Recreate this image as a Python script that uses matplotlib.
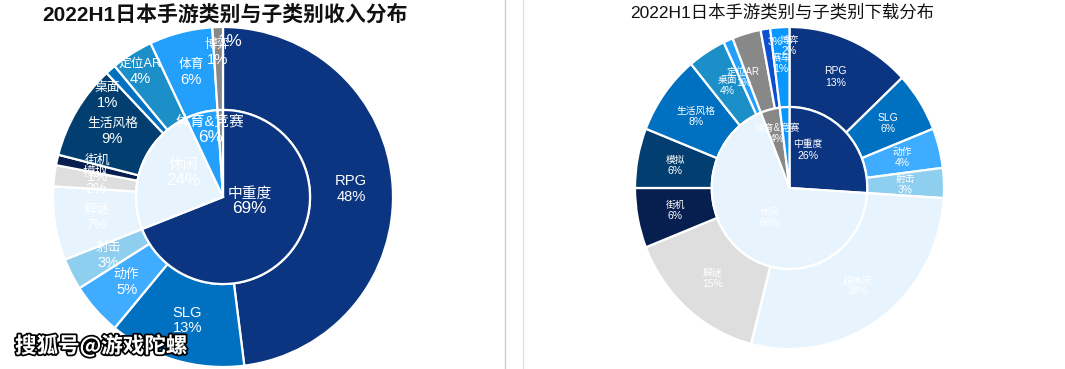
import matplotlib
matplotlib.use('Agg')
import matplotlib.pyplot as plt
import matplotlib.patheffects as pe
from matplotlib.lines import Line2D
import numpy as np

plt.rcParams['font.family'] = ['Liberation Sans', 'Noto Sans CJK SC']

# ---------------- data ----------------
rev_title = '2022H1日本手游类别与子类别收入分布'
rev_inner_labels = ['中重度', '休闲', '体育&竞赛', '博弈']
rev_inner_values = [69, 24, 6, 1]
rev_outer_labels = ['RPG', 'SLG', '动作', '射击', '解谜', '模拟', '街机', '生活风格', '桌面', '定位AR', '体育', '博弈']
rev_outer_values = [48, 13, 5, 3, 7, 2, 1, 9, 1, 4, 6, 1]

dl_title = '2022H1日本手游类别与子类别下载分布'
dl_inner_labels = ['中重度', '休闲', '体育&竞赛', '博弈']
dl_inner_values = [26, 68, 4, 2]
dl_outer_labels = ['RPG', 'SLG', '动作', '射击', '超休闲', '解谜', '街机', '模拟', '生活风格', '桌面', '定位AR', '体育', '赛车', '博弈']
dl_outer_values = [13, 6, 4, 3, 28, 15, 6, 6, 8, 4, 1, 3, 1, 2]

watermark = '搜狐号@游戏陀螺'

# ---------------- styles ----------------
NAVY = '#0b3581'; SLGB = '#0070c0'; ACT = '#40acff'; SHOOT = '#8ecff0'
LIGHT = '#e8f4fd'; LGRAY = '#dedede'; DNAVY = '#061f4f'; DTEAL = '#023f70'
TEAL = '#1c8fc8'; SKY = '#22a0fc'; GRAY = '#888888'; ROYAL = '#0c4fd0'; BRIGHT = '#0a96ff'

rev_inner_colors = [NAVY, LIGHT, SKY, GRAY]
rev_outer_colors = [NAVY, SLGB, ACT, SHOOT, LIGHT, LGRAY, DNAVY, DTEAL, SLGB, TEAL, SKY, GRAY]
dl_inner_colors = [NAVY, LIGHT, GRAY, BRIGHT]
dl_outer_colors = [NAVY, SLGB, ACT, SHOOT, LIGHT, LGRAY, DNAVY, DTEAL, SLGB, TEAL, SKY, GRAY, ROYAL, BRIGHT]

# label layout tweaks (data units); 'abs' = absolute position, 'shift' = offset from default
rev_inner_layout = {'中重度': ('abs', 0.156, -0.024), '休闲': ('abs', -0.235, 0.141),
                    '体育&竞赛': ('abs', -0.074, 0.394), '博弈': ('abs', 0.041, 0.912, 'pct')}
rev_outer_layout = {'桌面': ('shift', -0.18, 0.03), '定位AR': ('shift', -0.08, 0.10),
                    '博弈': ('shift', -0.011, 0.094)}
dl_inner_layout = {'中重度': ('abs', 0.12, 0.236), '休闲': ('abs', -0.126, -0.183),
                   '体育&竞赛': ('abs', -0.081, 0.339), '博弈': None}
dl_outer_layout = {'体育': ('abs', -0.094, 0.907, 'pct'), '赛车': ('shift', 0.062, 0.029),
                   '博弈': ('shift', 0.047, 0.134)}

W, H = 1065, 369
fig = plt.figure(figsize=(W / 100, H / 100), dpi=100)


def place_labels(ax, wedges, names, values, r_lab, layout, fs_cjk, fs_lat, half_gap):
    for w, n, v in zip(wedges, names, values):
        spec = layout.get(n, ('shift', 0, 0))
        if spec is None:
            continue
        ang = np.deg2rad((w.theta1 + w.theta2) / 2)
        x, y = r_lab * np.cos(ang), r_lab * np.sin(ang)
        if spec[0] == 'abs':
            x, y = spec[1], spec[2]
        else:
            x, y = x + spec[1], y + spec[2]
        pct_only = len(spec) > 3 and spec[3] == 'pct'
        if pct_only:
            ax.annotate(f'{v}%', (x, y), ha='center', va='center', color='white',
                        fontsize=fs_lat, zorder=5)
            continue
        name_fs = fs_lat if n.isascii() else fs_cjk
        ax.annotate(n, (x, y), xytext=(0, half_gap), textcoords='offset points',
                    ha='center', va='center', color='white', fontsize=name_fs, zorder=5)
        ax.annotate(f'{v}%', (x, y), xytext=(0, -half_gap), textcoords='offset points',
                    ha='center', va='center', color='white', fontsize=fs_lat, zorder=5)


def draw(rect, inner_vals, inner_cols, outer_vals, outer_cols, r_in,
         inner_names, outer_names, inner_layout, outer_layout, fs_in, fs_out, half_gap):
    ax = fig.add_axes(rect)
    wo, _ = ax.pie(outer_vals, radius=1, colors=outer_cols, startangle=90, counterclock=False,
                   wedgeprops=dict(width=1 - r_in, edgecolor='white', linewidth=1.6))
    wi, _ = ax.pie(inner_vals, radius=r_in, colors=inner_cols, startangle=90, counterclock=False,
                   wedgeprops=dict(edgecolor='white', linewidth=1.6))
    ax.set_aspect('auto')
    ax.set_xlim(-1, 1)
    ax.set_ylim(-1, 1)
    ax.axis('off')
    place_labels(ax, wo, outer_names, outer_vals, (1 + r_in) / 2, outer_layout, *fs_out, half_gap)
    place_labels(ax, wi, inner_names, inner_vals, r_in / 2, inner_layout, *fs_in, half_gap)
    return ax


# left: revenue
draw([53 / W, 2 / H, 340 / W, 340 / H], rev_inner_values, rev_inner_colors,
     rev_outer_values, rev_outer_colors, 0.512, rev_inner_labels, rev_outer_labels,
     rev_inner_layout, rev_outer_layout, (10.6, 12.3), (9.2, 10.6), 5.5)

# right: downloads
draw([635 / W, 20 / H, 309 / W, 322 / H], dl_inner_values, dl_inner_colors,
     dl_outer_values, dl_outer_colors, 0.503, dl_inner_labels, dl_outer_labels,
     dl_inner_layout, dl_outer_layout, (7.0, 7.7), (7.0, 7.5), 4.0)

# separators
fig.add_artist(Line2D([505 / W, 505 / W], [0, 1], color='#cfcfcf', lw=1))
fig.add_artist(Line2D([523 / W, 523 / W], [0, 1], color='#e2e2e2', lw=1))

# titles
fig.text(225 / W, 1 - 15 / H, rev_title, ha='center', va='center', fontsize=15,
         weight='bold', color='#111111')
fig.text(782 / W, 1 - 12 / H, dl_title, ha='center', va='center', fontsize=12.5,
         color='#111111')

# watermark
fig.text(15 / W, 1 - 346 / H, watermark, ha='left', va='center', fontsize=15.5,
         weight='bold', color='white', family=['Noto Sans CJK SC', 'DejaVu Sans'], zorder=10,
         path_effects=[pe.withStroke(linewidth=2.5, foreground='black')])

fig.savefig('out.png', dpi=100)
